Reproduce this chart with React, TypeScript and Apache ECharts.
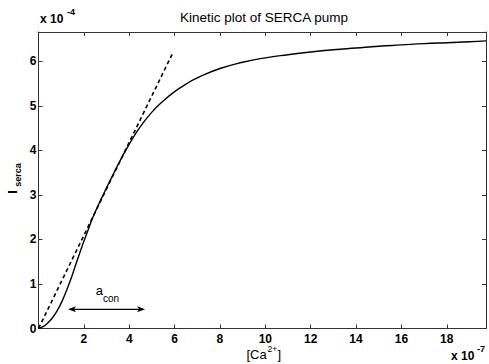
import React, { useEffect, useRef } from 'react';
import * as echarts from 'echarts';

// Kinetic curve (solid): [Ca2+] in 1e-7, I_serca in 1e-4
const solidX = [0, 0.2, 0.4, 0.6, 0.8, 1.0, 1.2, 1.4, 1.6, 1.8, 2.0, 2.2, 2.4, 2.7, 3.0, 3.3, 3.6, 3.9, 4.2, 4.5, 5.0, 5.5, 6.0, 6.5, 7.0, 8.0, 9.0, 10.0, 11.0, 12.0, 13.0, 14.0, 15.0, 16.0, 17.0, 18.0, 19.0, 19.73];
const solidY = [0, 0.04, 0.12, 0.23, 0.38, 0.57, 0.81, 1.07, 1.37, 1.67, 1.96, 2.23, 2.5, 2.84, 3.16, 3.47, 3.77, 4.05, 4.31, 4.54, 4.86, 5.11, 5.32, 5.49, 5.63, 5.84, 5.98, 6.08, 6.15, 6.21, 6.26, 6.3, 6.34, 6.37, 6.4, 6.42, 6.44, 6.46];

// Linear approximation (dashed)
const tangentX = [0, 5.93];
const tangentY = [0, 6.2];

// a_con double arrow
const arrowFrom = 1.3;
const arrowTo = 4.7;
const arrowLevel = 0.43;

const xTickLabels = ['2', '4', '6', '8', '10', '12', '14', '16', '18'];
const yTickLabels = ['0', '1', '2', '3', '4', '5', '6'];

const X_MAX = 19.73;
const Y_MAX = 6.66;

const FONT = '"Liberation Sans", Arial, Helvetica, sans-serif';

export default function App() {
  const ref = useRef<HTMLDivElement>(null);

  useEffect(() => {
    const chart = echarts.init(ref.current!, null, { renderer: 'svg' });

    const lineColor = '#333';
    const fmt = (labels: string[]) => (v: number) => {
      const r = Math.round(v);
      if (Math.abs(v - r) > 1e-6) return '';
      const s = String(r);
      return labels.includes(s) ? s : '';
    };
    const tickLabelStyle = {
      color: '#000',
      fontFamily: FONT,
      fontSize: 12,
      fontWeight: 'bold' as const,
    };

    const xBase = {
      type: 'value' as const,
      min: 0,
      max: X_MAX,
      interval: 2,
      splitLine: { show: false },
      axisLine: { show: true, onZero: false, lineStyle: { color: lineColor, width: 1 } },
      axisTick: { show: true, inside: true, length: 4, lineStyle: { color: lineColor } },
    };
    const yBase = {
      type: 'value' as const,
      min: 0,
      max: Y_MAX,
      interval: 1,
      splitLine: { show: false },
      axisLine: { show: true, onZero: false, lineStyle: { color: lineColor, width: 1 } },
      axisTick: { show: true, inside: true, length: 4, lineStyle: { color: lineColor } },
    };

    const txt = (
      text: string,
      x: number,
      y: number,
      size: number,
      weight: string,
      align: string,
      rotation = 0
    ) => ({
      type: 'text',
      x,
      y,
      rotation,
      silent: true,
      style: {
        text,
        fill: '#000',
        font: `${weight} ${size}px ${FONT}`,
        align,
        verticalAlign: 'middle',
      },
    });

    chart.setOption({
      animation: false,
      backgroundColor: '#fff',
      grid: { left: 38.5, top: 32, width: 449.5, height: 296.5, containLabel: false },
      xAxis: [
        {
          ...xBase,
          position: 'bottom',
          axisLabel: { ...tickLabelStyle, margin: 4, formatter: fmt(xTickLabels) },
        },
        { ...xBase, position: 'top', axisLabel: { show: false } },
      ],
      yAxis: [
        {
          ...yBase,
          position: 'left',
          axisLabel: { ...tickLabelStyle, margin: 2, formatter: fmt(yTickLabels) },
        },
        { ...yBase, position: 'right', axisLabel: { show: false } },
      ],
      series: [
        {
          type: 'line',
          xAxisIndex: 0,
          yAxisIndex: 0,
          data: solidX.map((x, i) => [x, solidY[i]]),
          showSymbol: false,
          smooth: 0.5,
          lineStyle: { color: '#000', width: 1.4 },
          silent: true,
        },
        {
          type: 'line',
          xAxisIndex: 0,
          yAxisIndex: 0,
          data: tangentX.map((x, i) => [x, tangentY[i]]),
          showSymbol: false,
          lineStyle: { color: '#000', width: 1.6, type: [4, 3] },
          silent: true,
        },
        {
          type: 'custom',
          coordinateSystem: 'cartesian2d',
          xAxisIndex: 0,
          yAxisIndex: 0,
          clip: false,
          silent: true,
          data: [[arrowFrom, arrowTo, arrowLevel]],
          encode: { x: [0, 1], y: 2 },
          renderItem: (_params: any, api: any) => {
            const p1 = api.coord([api.value(0), api.value(2)]);
            const p2 = api.coord([api.value(1), api.value(2)]);
            const hl = 8;
            const hw = 3;
            const cx = (p1[0] + p2[0]) / 2;
            const y = p1[1];
            return {
              type: 'group',
              children: [
                {
                  type: 'line',
                  shape: { x1: p1[0] + 3, y1: y, x2: p2[0] - 3, y2: y },
                  style: { stroke: '#000', lineWidth: 1.2 },
                },
                {
                  type: 'polygon',
                  shape: {
                    points: [
                      [p1[0], y],
                      [p1[0] + hl, y - hw],
                      [p1[0] + hl - 2, y],
                      [p1[0] + hl, y + hw],
                    ],
                  },
                  style: { fill: '#000' },
                },
                {
                  type: 'polygon',
                  shape: {
                    points: [
                      [p2[0], y],
                      [p2[0] - hl, y - hw],
                      [p2[0] - hl + 2, y],
                      [p2[0] - hl, y + hw],
                    ],
                  },
                  style: { fill: '#000' },
                },
                {
                  type: 'text',
                  x: cx - 3.5,
                  y: y - 19,
                  style: {
                    text: 'a',
                    fill: '#000',
                    font: `normal 13px ${FONT}`,
                    align: 'right',
                    verticalAlign: 'middle',
                  },
                },
                {
                  type: 'text',
                  x: cx - 3.5,
                  y: y - 11,
                  style: {
                    text: 'con',
                    fill: '#000',
                    font: `normal 10px ${FONT}`,
                    align: 'left',
                    verticalAlign: 'middle',
                  },
                },
              ],
            };
          },
        },
      ],
      graphic: [
        txt('Kinetic plot of SERCA pump', 264, 17, 13.5, 'normal', 'center'),
        txt('x 10', 40, 19, 12, 'bold', 'left'),
        txt('-4', 67, 12, 9, 'bold', 'left'),
        txt('[Ca', 246.5, 354, 13, 'normal', 'left'),
        txt('2+', 267.5, 349, 8.5, 'normal', 'left'),
        txt(']', 277.5, 354, 13, 'normal', 'left'),
        txt('x 10', 451, 356, 12, 'bold', 'left'),
        txt('-7', 477, 349, 9, 'bold', 'left'),
        txt('I', 12.5, 192, 13, 'bold', 'center', Math.PI / 2),
        txt('serca', 18, 175, 9, 'bold', 'center', Math.PI / 2),
      ],
    });

    return () => chart.dispose();
  }, []);

  return (
    <div
      ref={ref}
      style={{ position: 'absolute', left: 0, top: 0, width: 489, height: 364 }}
    />
  );
}
